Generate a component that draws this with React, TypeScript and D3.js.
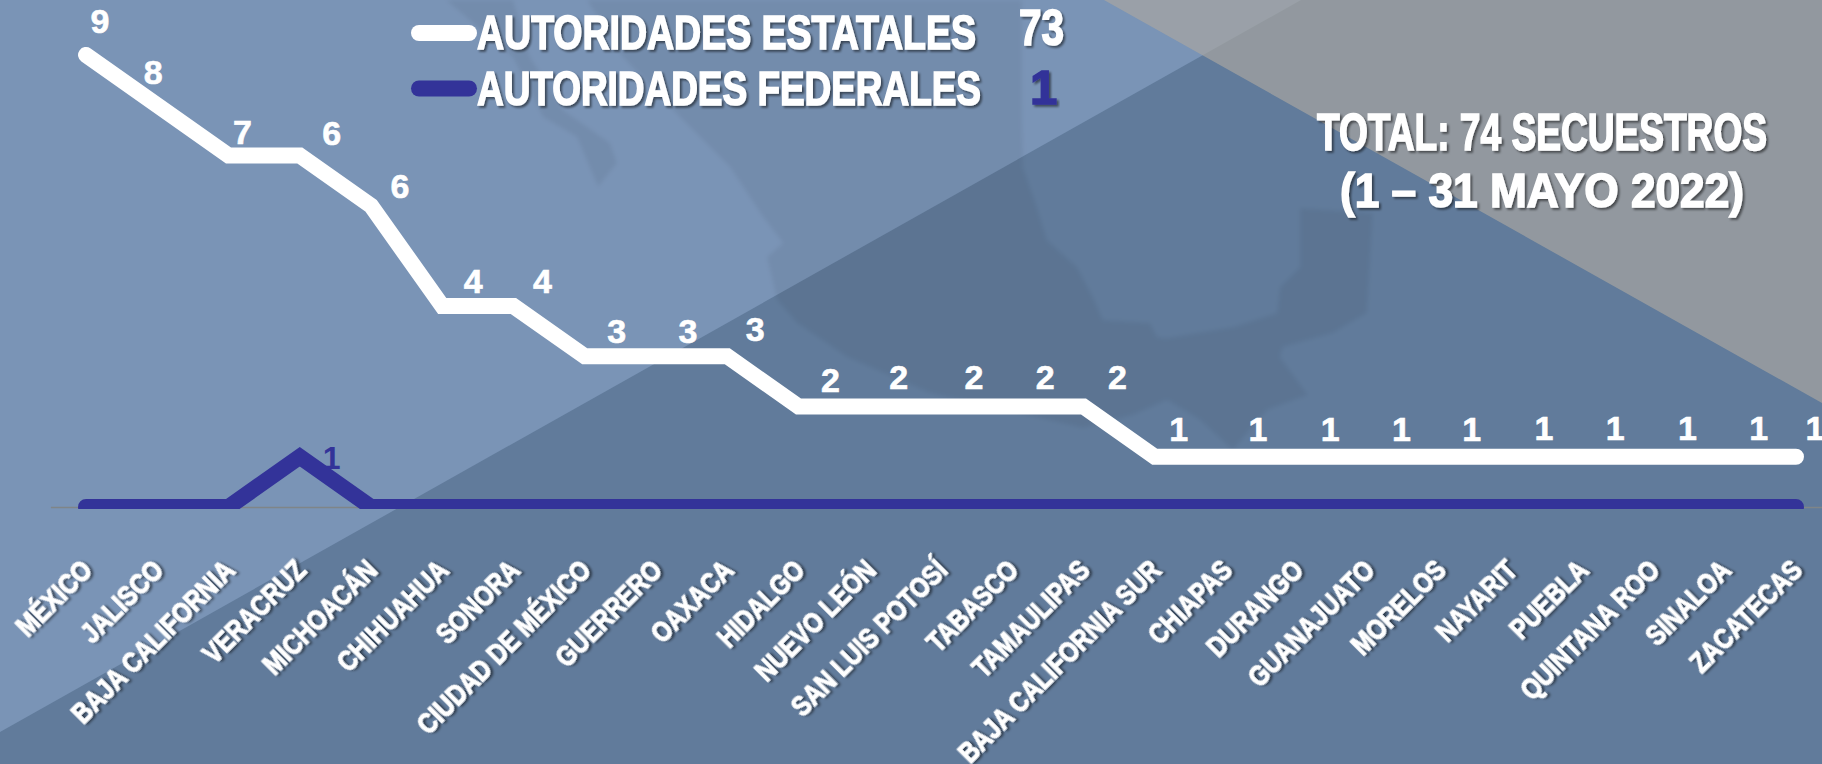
import React, { useEffect, useRef } from 'react';
import * as d3 from 'd3';

const WIDTH = 1822;
const HEIGHT = 764;
const FONT = '"Liberation Sans Narrow", "Liberation Sans", sans-serif';
const WHITE = '#ffffff';
const BLUE = '#333399';

const estados = [
	'MÉXICO', 'JALISCO', 'BAJA CALIFORNIA', 'VERACRUZ', 'MICHOACÁN', 'CHIHUAHUA', 'SONORA',
	'CIUDAD DE MÉXICO', 'GUERRERO', 'OAXACA', 'HIDALGO', 'NUEVO LEÓN', 'SAN LUIS POTOSÍ',
	'TABASCO', 'TAMAULIPAS', 'BAJA CALIFORNIA SUR', 'CHIAPAS', 'DURANGO', 'GUANAJUATO',
	'MORELOS', 'NAYARIT', 'PUEBLA', 'QUINTANA ROO', 'SINALOA', 'ZACATECAS'
];
const estatales = [9, 8, 7, 6, 6, 4, 4, 3, 3, 3, 2, 2, 2, 2, 2, 1, 1, 1, 1, 1, 1, 1, 1, 1, 1];
const federales = [0, 0, 0, 1, 0, 0, 0, 0, 0, 0, 0, 0, 0, 0, 0, 0, 0, 0, 0, 0, 0, 0, 0, 0, 0];

// hand placed labels in the original, offset from the point they belong to
const labelDx = [14, -4, 14, 32, 29, 31, 29, 32, 32, 28, 32, 29, 33, 33, 34, 24, 32, 33, 33, 32, 33, 33, 34, 34, 19];
const labelDy = [-22, -21, -11, -10, -8, -13, -13, -13, -13, -15, -15, -18, -18, -18, -18, -16, -16, -16, -16, -16, -17, -17, -17, -17, -17];

// background shapes
const darkBand = [[0, 732], [1301, 0], [1822, 0], [1822, 764], [0, 764]];
const greyCorner = [[1104, 0], [1822, 403], [1822, 0]];
const mapMainland = [
	[587, 0], [623, 57], [680, 117], [730, 167], [763, 217], [783, 243], [767, 257], [777, 300], [797, 323],
	[847, 357], [930, 393], [1083, 428], [1133, 415], [1167, 400], [1200, 420], [1233, 450], [1267, 410],
	[1308, 395], [1280, 357], [1283, 347], [1333, 333], [1367, 313], [1373, 213], [1300, 208], [1300, 267],
	[1280, 287], [1277, 313], [1233, 327], [1167, 338], [1157, 337], [1150, 323], [1103, 320], [1093, 297],
	[1077, 267], [1047, 240], [1037, 207], [1023, 167], [1022, 100], [1022, 0]
];
const mapBaja = [
	[446, 0], [513, 57], [543, 117], [577, 137], [598, 187], [617, 163], [610, 143], [563, 110], [530, 57], [513, 0]
];

const toPath = (pts: number[][]) => d3.line()(pts as [number, number][]) + 'Z';

const App = () => {
	const axisRef = useRef<SVGGElement>(null);

	const x = d3.scaleBand().domain(estados).range([50.4, 1831.6]).padding(0);
	const y = d3.scaleLinear().domain([0, 9]).range([507, 55]);
	const px = (i: number) => (x(estados[i]) as number) + x.bandwidth() / 2;

	const line = d3
		.line<number>()
		.x((_, i) => px(i))
		.y(d => y(d));

	// the white line is drawn stacked on top of the federal series
	const stacked = estatales.map((v, i) => v + federales[i]);

	useEffect(() => {
		const axis = d3.select(axisRef.current);
		axis.selectAll('*').remove();
		axis.call(d3.axisBottom(x).tickSize(0).tickSizeOuter(0) as any);
		axis.select('.domain').attr('stroke', '#7f8588').attr('stroke-width', 1.5);
		axis.selectAll('text')
			.attr('y', 0)
			.attr('dy', 0)
			.attr('text-anchor', 'end')
			.attr('transform', 'translate(8,65) rotate(-45) scale(0.95,1.15)')
			.attr('fill', WHITE)
			.attr('stroke', WHITE)
			.attr('stroke-width', 0.9)
			.attr('filter', 'url(#shadow)')
			.style('font-family', FONT)
			.style('font-weight', 700)
			.style('font-size', '25px');
	}, []);

	const titleStyle = {
		fontFamily: FONT,
		fontWeight: 700,
		fill: WHITE,
		stroke: WHITE,
		strokeWidth: 1.6,
		filter: 'url(#shadow)'
	};

	return (
		<svg
			width={WIDTH}
			height={HEIGHT}
			style={{ position: 'absolute', left: 0, top: 0 }}
		>
			<defs>
				<filter id="shadow" x="-10%" y="-30%" width="120%" height="160%">
					<feDropShadow dx="2" dy="2" stdDeviation="1" floodColor="#000" floodOpacity="0.5" />
				</filter>
				<filter id="soft">
					<feGaussianBlur stdDeviation="2" />
				</filter>
				<clipPath id="plot-clip">
					<rect x={0} y={0} width={WIDTH} height={y(0) + 2} />
				</clipPath>
			</defs>

			<rect width={WIDTH} height={HEIGHT} fill="#7a94b6" />
			<path d={toPath(darkBand)} fill="#617b9b" />
			<g filter="url(#soft)">
				<path d={toPath(mapMainland)} fill="#000" fillOpacity={0.055} />
				<path d={toPath(mapBaja)} fill="#000" fillOpacity={0.055} />
			</g>
			<path d={toPath(greyCorner)} fill="#a9a6a1" fillOpacity={0.68} />

			<g ref={axisRef} transform={`translate(0,${y(0)})`} />

			<path
				d={line(federales) as string}
				fill="none"
				stroke={BLUE}
				strokeWidth={16}
				strokeLinecap="round"
				clipPath="url(#plot-clip)"
			/>
			<path
				d={line(stacked) as string}
				fill="none"
				stroke={WHITE}
				strokeWidth={16}
				strokeLinecap="round"
			/>

			{estatales.map((v, i) => (
				<text
					key={estados[i]}
					x={px(i) + labelDx[i]}
					y={y(stacked[i]) + labelDy[i]}
					textAnchor="middle"
					fontFamily={FONT}
					fontWeight={700}
					fontSize={34}
					fill={WHITE}
					stroke={WHITE}
					strokeWidth={0.6}
				>
					{v}
				</text>
			))}
			{federales.map((v, i) =>
				v > 0 ? (
					<text
						key={estados[i]}
						x={px(i) + 32}
						y={y(v) + 12}
						textAnchor="middle"
						fontFamily={FONT}
						fontWeight={700}
						fontSize={32}
						fill={BLUE}
					>
						{v}
					</text>
				) : null
			)}

			{/* legend */}
			<line x1={419} x2={469} y1={33} y2={33} stroke={WHITE} strokeWidth={16} strokeLinecap="round" />
			<line x1={419} x2={469} y1={88.5} y2={88.5} stroke={BLUE} strokeWidth={16} strokeLinecap="round" />
			<text x={477} y={49} fontSize={49} textLength={499} lengthAdjust="spacingAndGlyphs" style={titleStyle}>
				AUTORIDADES ESTATALES
			</text>
			<text x={477} y={105} fontSize={49} textLength={504} lengthAdjust="spacingAndGlyphs" style={titleStyle}>
				AUTORIDADES FEDERALES
			</text>
			<text x={1019} y={45} fontSize={50} textLength={45} lengthAdjust="spacingAndGlyphs" style={titleStyle}>
				{d3.sum(estatales)}
			</text>
			<text x={1030} y={104} fontSize={49} style={{ ...titleStyle, fill: BLUE, stroke: BLUE }}>
				{d3.sum(federales)}
			</text>

			{/* total */}
			<text x={1317} y={150} fontSize={51} textLength={450} lengthAdjust="spacingAndGlyphs" style={titleStyle}>
				TOTAL: {d3.sum(estatales) + d3.sum(federales)} SECUESTROS
			</text>
			<text x={1340} y={207} fontSize={49} textLength={404} lengthAdjust="spacingAndGlyphs" style={titleStyle}>
				(1 – 31 MAYO 2022)
			</text>
		</svg>
	);
};

export default App;
